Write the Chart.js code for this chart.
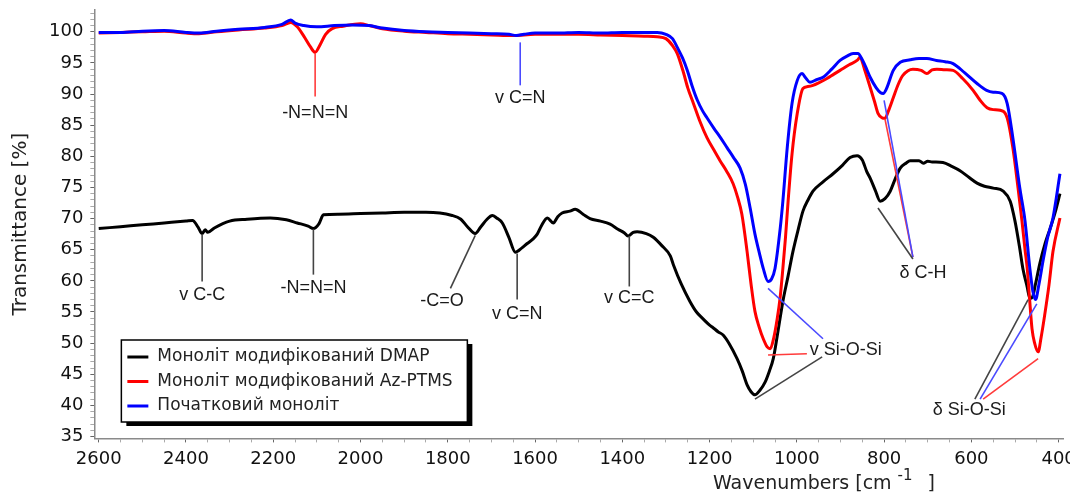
<!DOCTYPE html>
<html>
<head>
<meta charset="utf-8">
<script src="https://cdn.jsdelivr.net/npm/chart.js@4.4.1/dist/chart.umd.min.js"></script>
<style>
  html, body { margin: 0; padding: 0; background: #fff; }
  #wrap { width: 1070px; height: 495px; overflow: hidden; position: relative; }
  #irChart { display: block; }
</style>
</head>
<body>
<div id="wrap"><canvas id="irChart" width="1080" height="495"></canvas></div>
<script>
// series labels (legend order)
const seriesNames = ['Моноліт модифікований DMAP', 'Моноліт модифікований Az-PTMS', 'Початковий моноліт'];
const seriesColors = ['#000000', '#ff0000', '#0000ff'];

// DMAP-modified monolith
const dmapWn = [2600, 2550, 2500, 2450, 2400, 2385, 2372, 2363, 2356, 2350, 2335, 2300, 2260, 2207, 2170, 2145, 2120, 2108, 2095, 2085,
  2050, 2000, 1950, 1900, 1850, 1790, 1770, 1755, 1737, 1725, 1710, 1698, 1688, 1675, 1660, 1645, 1630, 1618, 1605, 1595,
  1585, 1572, 1558, 1548, 1538, 1520, 1508, 1490, 1474, 1450, 1428, 1410, 1395, 1387, 1375, 1366, 1345, 1329, 1310, 1290,
  1283, 1265, 1245, 1230, 1215, 1200, 1194, 1180, 1169, 1155, 1137, 1125, 1114, 1105, 1096, 1085, 1073, 1063, 1054, 1043,
  1032, 1020, 1009, 996, 986, 975, 963, 940, 917, 895, 878, 862, 850, 840, 832, 820, 809, 798, 786, 775,
  763, 750, 740, 720, 710, 700, 690, 665, 645, 626, 605, 587, 570, 550, 527, 511, 500, 490, 482, 472,
  466, 460, 453, 443, 431, 420, 408, 397];
const dmapT = [68.4, 68.7, 69.0, 69.3, 69.6, 69.7, 68.6, 67.6, 68.2, 67.8, 68.5, 69.6, 69.9, 70.1, 69.8, 69.3, 68.8, 68.4, 69.2, 70.6,
  70.7, 70.8, 70.9, 71.0, 71.0, 70.5, 69.9, 68.7, 67.6, 68.6, 69.9, 70.5, 70.1, 69.3, 67.0, 64.6, 65.3, 66.0, 66.7, 67.5,
  68.9, 70.1, 69.3, 70.3, 70.9, 71.2, 71.5, 70.7, 70.0, 69.6, 69.1, 68.3, 67.7, 67.2, 67.8, 67.9, 67.6, 67.0, 65.7, 64.0,
  62.6, 59.5, 56.7, 55.0, 53.9, 52.9, 52.6, 51.8, 51.3, 49.9, 47.5, 45.5, 43.3, 42.2, 41.7, 42.4, 43.7, 45.5, 47.5, 52.0,
  56.7, 60.8, 64.7, 68.5, 71.2, 72.9, 74.4, 75.9, 77.2, 78.6, 79.8, 80.1, 79.4, 77.6, 76.5, 74.5, 72.8, 73.2, 74.4, 76.3,
  78.1, 78.9, 79.3, 79.3, 78.9, 79.2, 79.1, 79.0, 78.4, 77.7, 76.6, 75.7, 75.2, 74.9, 74.4, 72.8, 69.6, 65.6, 62.0, 59.0,
  57.2, 57.4, 59.5, 62.8, 66.0, 68.3, 71.0, 74.0];

// Az-PTMS-modified monolith
const azWn = [2600, 2550, 2500, 2450, 2400, 2370, 2330, 2280, 2220, 2180, 2160, 2145, 2130, 2115, 2104, 2092, 2080, 2065, 2040, 2000,
  1980, 1950, 1900, 1850, 1800, 1750, 1700, 1650, 1600, 1550, 1500, 1450, 1400, 1350, 1320, 1300, 1285, 1274, 1260, 1250,
  1237, 1222, 1206, 1190, 1176, 1160, 1146, 1136, 1126, 1114, 1105, 1096, 1086, 1077, 1068, 1061, 1053, 1045, 1038, 1032,
  1026, 1020, 1011, 999, 986, 975, 963, 950, 931, 915, 901, 880, 862, 855, 845, 832, 822, 814, 805, 798,
  790, 779, 768, 757, 734, 715, 702, 690, 679, 660, 642, 620, 596, 580, 564, 550, 534, 518, 505, 493,
  484, 477, 472, 467, 461, 455, 447, 440, 432, 422, 413, 397];
const azT = [99.8, 99.9, 100.0, 100.1, 99.8, 99.7, 100.0, 100.3, 100.6, 101.0, 101.5, 100.8, 99.3, 97.6, 96.7, 98.0, 99.6, 100.5, 100.9, 101.3,
  101.0, 100.5, 100.1, 99.9, 99.7, 99.6, 99.5, 99.4, 99.6, 99.6, 99.6, 99.5, 99.4, 99.3, 99.2, 98.9, 97.8, 96.5, 93.5, 91.0,
  88.5, 85.6, 83.0, 81.0, 79.3, 77.5, 75.6, 73.5, 70.7, 64.7, 59.5, 55.1, 52.5, 50.7, 49.4, 49.1, 50.8, 53.9, 57.5, 62.0,
  67.0, 72.8, 80.4, 86.9, 90.9, 91.2, 91.4, 91.8, 92.5, 93.2, 93.8, 94.7, 95.4, 95.9, 94.0, 91.1, 88.8, 86.9, 86.2, 86.1,
  87.3, 89.4, 91.5, 93.0, 94.0, 93.8, 93.3, 93.9, 94.0, 93.9, 93.8, 92.5, 90.6, 89.0, 87.8, 87.5, 87.4, 86.2, 81.4, 74.9,
  69.6, 65.0, 62.0, 57.5, 52.3, 50.0, 48.6, 51.0, 54.5, 59.4, 64.7, 70.1];

// initial monolith
const baseWn = [2600, 2550, 2500, 2450, 2400, 2370, 2330, 2280, 2220, 2180, 2160, 2150, 2130, 2100, 2060, 2020, 1980, 1950, 1900, 1850,
  1800, 1750, 1700, 1660, 1643, 1625, 1600, 1550, 1500, 1450, 1400, 1350, 1320, 1300, 1285, 1274, 1262, 1251, 1240, 1228,
  1216, 1206, 1190, 1175, 1160, 1145, 1130, 1118, 1107, 1096, 1086, 1077, 1066, 1058, 1050, 1038, 1032, 1022, 1011, 999,
  988, 980, 970, 955, 940, 920, 901, 885, 871, 860, 850, 840, 832, 818, 808, 802, 795, 779, 763, 740,
  720, 702, 680, 660, 642, 615, 587, 565, 550, 530, 518, 505, 489, 477, 466, 459, 453, 445, 435, 425,
  413, 397];
const baseT = [99.9, 99.9, 100.1, 100.2, 99.9, 99.8, 100.1, 100.4, 100.7, 101.2, 101.9, 101.4, 101.0, 100.8, 101.0, 101.1, 101.0, 100.6, 100.2, 100.0,
  99.9, 99.8, 99.7, 99.6, 99.4, 99.6, 99.8, 99.8, 99.9, 99.8, 99.9, 99.9, 99.9, 99.6, 98.9, 97.5, 95.8, 93.8, 91.3, 89.0,
  87.3, 86.2, 84.5, 83.0, 81.4, 79.8, 78.1, 75.5, 71.7, 67.5, 64.5, 62.0, 59.9, 60.3, 62.0, 68.5, 72.8, 81.4, 88.5, 92.2,
  93.3, 92.6, 91.9, 92.3, 92.7, 94.0, 95.4, 96.1, 96.5, 96.5, 95.5, 94.0, 92.7, 91.0, 90.2, 90.1, 90.8, 93.8, 95.1, 95.5,
  95.7, 95.7, 95.4, 95.2, 94.9, 93.4, 91.7, 90.6, 90.3, 90.1, 88.5, 83.0, 74.9, 69.6, 62.0, 58.3, 57.0, 59.5, 63.5, 67.0,
  70.1, 77.2];

// axis ticks
const xTickLabels = [2600, 2400, 2200, 2000, 1800, 1600, 1400, 1200, 1000, 800, 600, 400];
const yTickLabels = [35, 40, 45, 50, 55, 60, 65, 70, 75, 80, 85, 90, 95, 100];

// band annotations: text and where it sits (wavenumber, transmittance)
const bandLabels = ['-N=N=N', 'v C=N', 'v C-C', '-N=N=N', '-C=O', 'v C=N', 'v C=C', 'v Si-O-Si', 'δ C-H', 'δ Si-O-Si'];
const bandLabelWn = [2104, 1634, 2363, 2108, 1813, 1641, 1384, 888, 711, 605];
const bandLabelT = [87.0, 89.3, 57.8, 58.8, 56.7, 54.7, 57.2, 48.9, 61.2, 39.2];

// leader lines: [wn1, T1, wn2, T2] and the series colour index they belong to
const leaderLines = [
  [2104, 96.6, 2104, 89.6], [1634, 98.3, 1634, 91.4],
  [2363, 67.5, 2363, 59.9], [2108, 68.3, 2108, 61.0], [1737, 67.3, 1794, 58.8], [1641, 64.4, 1641, 57.0], [1384, 67.2, 1384, 59.1],
  [1066, 58.8, 940, 50.7], [1066, 48.1, 977, 48.3], [1096, 41.0, 942, 47.8],
  [798, 86.0, 734, 63.8], [800, 89.0, 734, 63.8], [814, 71.7, 734, 63.5],
  [592, 41.0, 470, 57.0], [580, 41.0, 450, 56.3], [573, 41.0, 447, 47.5]
];
const leaderSeries = [1, 2, 0, 0, 0, 0, 0, 2, 1, 0, 1, 2, 0, 0, 2, 1];
const leaderColors = ['#444444', '#ff3b3b', '#4a4aff'];

const FONT = 'DejaVu Sans';

function toPoints(wn, t) {
  return wn.map((w, i) => ({ x: w, y: t[i] }));
}

const annotationsPlugin = {
  id: 'bandAnnotations',
  afterDatasetsDraw(chart) {
    const { ctx, scales: { x, y } } = chart;
    ctx.save();
    ctx.lineWidth = 1.6;
    leaderLines.forEach((l, i) => {
      ctx.strokeStyle = leaderColors[leaderSeries[i]];
      ctx.beginPath();
      ctx.moveTo(x.getPixelForValue(l[0]), y.getPixelForValue(l[1]));
      ctx.lineTo(x.getPixelForValue(l[2]), y.getPixelForValue(l[3]));
      ctx.stroke();
    });
    ctx.fillStyle = '#1a1a1a';
    ctx.font = '18px "Liberation Sans"';
    ctx.textAlign = 'center';
    ctx.textBaseline = 'middle';
    bandLabels.forEach((txt, i) => {
      ctx.fillText(txt, x.getPixelForValue(bandLabelWn[i]), y.getPixelForValue(bandLabelT[i]));
    });
    ctx.restore();
  }
};

const legendBoxPlugin = {
  id: 'legendBox',
  afterDraw(chart) {
    const { ctx, chartArea } = chart;
    const left = chartArea.left + 27, top = chartArea.top + 330;
    const w = 346, h = 82;
    ctx.save();
    ctx.fillStyle = '#000';
    ctx.fillRect(left + 5, top + 4, w, h);
    ctx.fillStyle = '#fff';
    ctx.fillRect(left, top, w, h);
    ctx.strokeStyle = '#000';
    ctx.lineWidth = 1.5;
    ctx.strokeRect(left, top, w, h);
    ctx.font = '17px ' + FONT;
    ctx.textBaseline = 'middle';
    ctx.textAlign = 'left';
    seriesNames.forEach((name, i) => {
      const cy = top + 17 + i * 24.5;
      ctx.strokeStyle = seriesColors[i];
      ctx.lineWidth = 3;
      ctx.beginPath();
      ctx.moveTo(left + 6, cy);
      ctx.lineTo(left + 27, cy);
      ctx.stroke();
      ctx.fillStyle = '#222';
      ctx.fillText(name, left + 36, cy);
    });
    ctx.restore();
  }
};

const axisTitlePlugin = {
  id: 'axisTitles',
  afterDraw(chart) {
    const { ctx, chartArea } = chart;
    ctx.save();
    ctx.fillStyle = '#222';
    ctx.textBaseline = 'alphabetic';
    ctx.textAlign = 'left';
    ctx.font = '19px ' + FONT;
    const base = 489;
    const head = 'Wavenumbers [cm';
    ctx.fillText(head, 713, base);
    const supX = 713 + ctx.measureText(head).width + 6;
    ctx.font = '15px ' + FONT;
    ctx.fillText('-1', supX, base - 9);
    ctx.font = '19px ' + FONT;
    ctx.fillText(']', supX + 30, base);
    // vertical title
    ctx.translate(21, (chartArea.top + chartArea.bottom) / 2);
    ctx.rotate(-Math.PI / 2);
    ctx.textAlign = 'center';
    ctx.textBaseline = 'middle';
    ctx.font = '20px ' + FONT;
    ctx.fillText('Transmittance [%]', 0, 0);
    ctx.restore();
  }
};

const canvas = document.getElementById('irChart');
new Chart(canvas.getContext('2d'), {
  type: 'line',
  data: {
    datasets: [
      { label: seriesNames[0], data: toPoints(dmapWn, dmapT), borderColor: seriesColors[0], order: 2 },
      { label: seriesNames[1], data: toPoints(azWn, azT), borderColor: seriesColors[1], order: 1 },
      { label: seriesNames[2], data: toPoints(baseWn, baseT), borderColor: seriesColors[2], order: 0 }
    ]
  },
  options: {
    responsive: false,
    animation: false,
    layout: { padding: { left: 42, right: 17, top: 10, bottom: 19 } },
    elements: {
      point: { radius: 0 },
      line: { borderWidth: 3, tension: 0.3, cubicInterpolationMode: 'monotone', fill: false }
    },
    plugins: { legend: { display: false }, tooltip: { enabled: false }, title: { display: false } },
    scales: {
      x: {
        type: 'linear',
        reverse: true,
        min: 390,
        max: 2610,
        afterBuildTicks: scale => {
          const t = [];
          for (let v = 400; v <= 2600; v += 50) t.push({ value: v });
          scale.ticks = t;
        },
        afterFit: scale => { scale.paddingLeft = 0; scale.paddingRight = 0; },
        ticks: {
          autoSkip: false,
          maxRotation: 0,
          padding: 6,
          color: '#111',
          font: { family: FONT, size: 18 },
          callback: v => xTickLabels.includes(v) ? String(v) : ''
        },
        grid: {
          drawOnChartArea: false,
          drawTicks: true,
          tickLength: 4,
          tickColor: c => (c.tick && xTickLabels.includes(c.tick.value)) ? '#666' : '#aaa'
        },
        border: { color: '#8a8a8a', width: 1.5 }
      },
      y: {
        min: 34.7,
        max: 103.5,
        afterBuildTicks: scale => {
          const t = [];
          for (let v = 35; v <= 103; v += 1) t.push({ value: v });
          scale.ticks = t;
        },
        afterFit: scale => { scale.paddingTop = 0; scale.paddingBottom = 0; },
        ticks: {
          autoSkip: false,
          padding: 7,
          color: '#111',
          font: { family: FONT, size: 18 },
          callback: v => yTickLabels.includes(v) ? String(v) : ''
        },
        grid: {
          drawOnChartArea: false,
          drawTicks: true,
          tickLength: 4,
          tickColor: c => (c.tick && yTickLabels.includes(c.tick.value)) ? '#666' : '#aaa'
        },
        border: { color: '#8a8a8a', width: 1.5 }
      }
    }
  },
  plugins: [annotationsPlugin, legendBoxPlugin, axisTitlePlugin]
});
</script>
</body>
</html>
